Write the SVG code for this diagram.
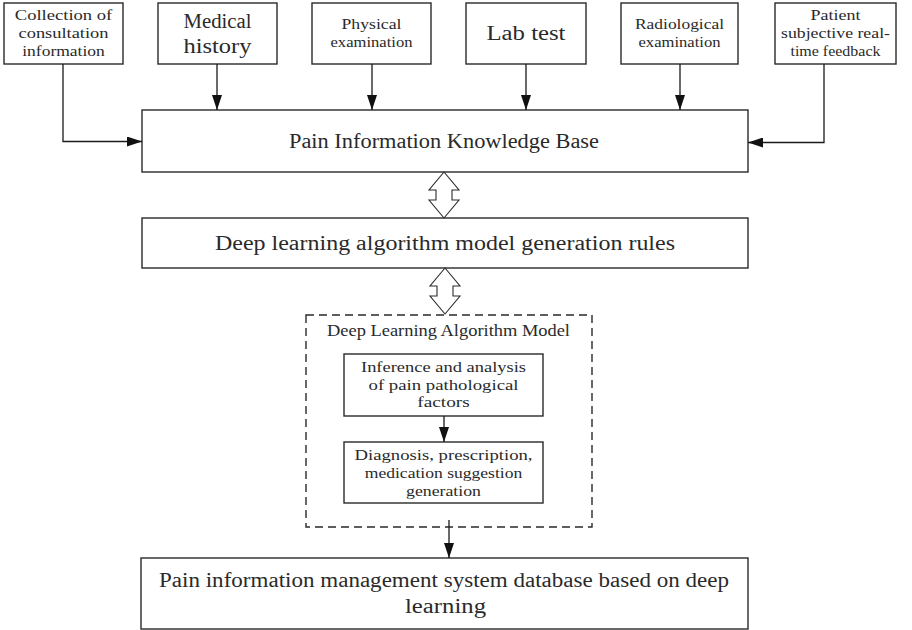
<svg xmlns="http://www.w3.org/2000/svg" width="912" height="630" viewBox="0 0 912 630">
<style>
.box{fill:#fff;stroke:#2a2a2a;stroke-width:1.4}
.dash{fill:none;stroke:#2a2a2a;stroke-width:1.4;stroke-dasharray:8 5}
.t{font-family:"Liberation Serif",serif;fill:#2a2a2a;text-anchor:middle}
.s{font-size:15px}
.m{font-size:17px}
.l{font-size:20px}
.c{fill:none;stroke:#1a1a1a;stroke-width:1.3}
.dbl{fill:#fff;stroke:#2a2a2a;stroke-width:1.1}
</style>
<defs>
<marker id="ah" viewBox="0 0 15 10" refX="15" refY="5" markerWidth="15" markerHeight="10" markerUnits="userSpaceOnUse" orient="auto">
<path d="M0,0 L15,5 L0,10 z" fill="#111"/>
</marker>
</defs>
<rect width="912" height="630" fill="#fff"/>

<g id="n-collection">
<rect class="box" x="4" y="3" width="119" height="61"/>
<text class="t s" x="63.5" y="20" textLength="97.5" lengthAdjust="spacingAndGlyphs">Collection of</text>
<text class="t s" x="63.5" y="38" textLength="90" lengthAdjust="spacingAndGlyphs">consultation</text>
<text class="t s" x="63.5" y="56" textLength="82.5" lengthAdjust="spacingAndGlyphs">information</text>
</g>
<g id="n-medical">
<rect class="box" x="158" y="3" width="119" height="61"/>
<text class="t l" x="217.5" y="28" textLength="68" lengthAdjust="spacingAndGlyphs">Medical</text>
<text class="t l" x="217.5" y="52.5" textLength="68" lengthAdjust="spacingAndGlyphs">history</text>
</g>
<g id="n-physical">
<rect class="box" x="312" y="3" width="119" height="61"/>
<text class="t s" x="371.5" y="28.5" textLength="60" lengthAdjust="spacingAndGlyphs">Physical</text>
<text class="t s" x="371.5" y="46.5" textLength="82" lengthAdjust="spacingAndGlyphs">examination</text>
</g>
<g id="n-lab">
<rect class="box" x="466" y="3" width="120" height="61"/>
<text class="t l" x="526" y="40" textLength="79" lengthAdjust="spacingAndGlyphs">Lab test</text>
</g>
<g id="n-radio">
<rect class="box" x="621" y="3" width="117" height="61"/>
<text class="t s" x="679.5" y="29" textLength="89" lengthAdjust="spacingAndGlyphs">Radiological</text>
<text class="t s" x="679.5" y="46.5" textLength="82" lengthAdjust="spacingAndGlyphs">examination</text>
</g>
<g id="n-patient">
<rect class="box" x="775" y="3" width="121" height="61"/>
<text class="t s" x="835.5" y="19.5" textLength="50" lengthAdjust="spacingAndGlyphs">Patient</text>
<text class="t s" x="835.5" y="37.5" textLength="109" lengthAdjust="spacingAndGlyphs">subjective real-</text>
<text class="t s" x="835.5" y="56" textLength="90" lengthAdjust="spacingAndGlyphs">time feedback</text>
</g>

<g id="n-kb">
<rect class="box" x="142" y="110" width="606" height="62"/>
<text class="t l" x="444" y="148" textLength="310" lengthAdjust="spacingAndGlyphs">Pain Information Knowledge Base</text>
</g>
<g id="n-rules">
<rect class="box" x="142" y="218" width="606" height="50"/>
<text class="t l" x="445" y="250" textLength="460" lengthAdjust="spacingAndGlyphs">Deep learning algorithm model generation rules</text>
</g>

<g id="n-model">
<rect class="dash" x="306" y="315" width="286" height="212"/>
<text class="t m" x="448.5" y="336" textLength="243" lengthAdjust="spacingAndGlyphs">Deep Learning Algorithm Model</text>
</g>
<g id="n-inference">
<rect class="box" x="344" y="354" width="199" height="62"/>
<text class="t s" x="443.5" y="371.5" textLength="165" lengthAdjust="spacingAndGlyphs">Inference and analysis</text>
<text class="t s" x="443.5" y="389.5" textLength="150" lengthAdjust="spacingAndGlyphs">of pain pathological</text>
<text class="t s" x="443.5" y="407" textLength="52.5" lengthAdjust="spacingAndGlyphs">factors</text>
</g>
<g id="n-diagnosis">
<rect class="box" x="344" y="442" width="199" height="61"/>
<text class="t s" x="443.5" y="459.5" textLength="178" lengthAdjust="spacingAndGlyphs">Diagnosis, prescription,</text>
<text class="t s" x="443.5" y="477.5" textLength="157.5" lengthAdjust="spacingAndGlyphs">medication suggestion</text>
<text class="t s" x="443.5" y="495.5" textLength="75" lengthAdjust="spacingAndGlyphs">generation</text>
</g>
<g id="n-db">
<rect class="box" x="141" y="558" width="607" height="71"/>
<text class="t l" x="444" y="587" textLength="570" lengthAdjust="spacingAndGlyphs">Pain information management system database based on deep</text>
<text class="t l" x="445.5" y="613" textLength="81" lengthAdjust="spacingAndGlyphs">learning</text>
</g>

<g id="connectors">
<path class="c" d="M63,64 V141.5 H142" marker-end="url(#ah)"/>
<path class="c" d="M217,64 V110" marker-end="url(#ah)"/>
<path class="c" d="M372,64 V110" marker-end="url(#ah)"/>
<path class="c" d="M526,64 V110" marker-end="url(#ah)"/>
<path class="c" d="M680,64 V110" marker-end="url(#ah)"/>
<path class="c" d="M824,64 V142.5 H748" marker-end="url(#ah)"/>
<polygon class="dbl" points="444,172 459,190 452,190 452,200 459,200 444,218 429,200 436,200 436,190 429,190"/>
<polygon class="dbl" points="445,268 460,286 453,286 453,296 460,296 445,314 430,296 437,296 437,286 430,286"/>
<path class="c" d="M444,416 V442" marker-end="url(#ah)"/>
<path class="c" d="M449,520 V558" marker-end="url(#ah)"/>
</g>
</svg>
